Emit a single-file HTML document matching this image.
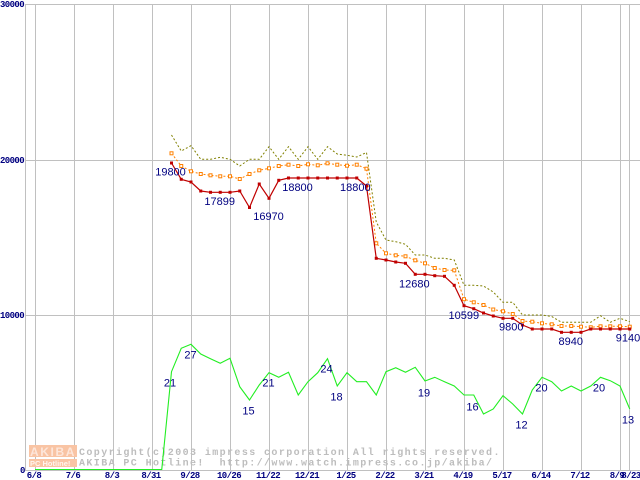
<!DOCTYPE html>
<html><head><meta charset="utf-8"><style>
html,body{margin:0;padding:0;background:#fff;}
svg{display:block;}
</style></head><body>
<svg xmlns="http://www.w3.org/2000/svg" width="640" height="480" viewBox="0 0 640 480">
<rect width="640" height="480" fill="#fff"/>
<g stroke="#c0c0c0" stroke-width="1" shape-rendering="crispEdges">
<line x1="25" y1="4.5" x2="640" y2="4.5"/>
<line x1="25" y1="160.5" x2="640" y2="160.5"/>
<line x1="25" y1="315.5" x2="640" y2="315.5"/>
<line x1="25" y1="470.5" x2="640" y2="470.5"/>
<line x1="25.5" y1="4" x2="25.5" y2="471"/>
<line x1="35.5" y1="4" x2="35.5" y2="471"/>
<line x1="74.5" y1="4" x2="74.5" y2="471"/>
<line x1="113.5" y1="4" x2="113.5" y2="471"/>
<line x1="152.5" y1="4" x2="152.5" y2="471"/>
<line x1="191.5" y1="4" x2="191.5" y2="471"/>
<line x1="230.5" y1="4" x2="230.5" y2="471"/>
<line x1="269.5" y1="4" x2="269.5" y2="471"/>
<line x1="308.5" y1="4" x2="308.5" y2="471"/>
<line x1="347.5" y1="4" x2="347.5" y2="471"/>
<line x1="386.5" y1="4" x2="386.5" y2="471"/>
<line x1="425.5" y1="4" x2="425.5" y2="471"/>
<line x1="464.5" y1="4" x2="464.5" y2="471"/>
<line x1="503.5" y1="4" x2="503.5" y2="471"/>
<line x1="542.5" y1="4" x2="542.5" y2="471"/>
<line x1="581.5" y1="4" x2="581.5" y2="471"/>
<line x1="620.5" y1="4" x2="620.5" y2="471"/>
<line x1="629.5" y1="4" x2="629.5" y2="471"/>
</g>
<g font-family="'Liberation Mono', monospace" font-weight="bold" font-size="9" fill="#000080" letter-spacing="-0.6">
<text x="0" y="7">30000</text>
<text x="0" y="163">20000</text>
<text x="0" y="318">10000</text>
<text x="20" y="473">0</text>
</g>
<g font-family="'Liberation Mono', monospace" font-weight="bold" font-size="9" fill="#000080" letter-spacing="-0.6" text-anchor="middle">
<text x="34" y="478">6/8</text>
<text x="73" y="478">7/6</text>
<text x="112" y="478">8/3</text>
<text x="151" y="478">8/31</text>
<text x="190" y="478">9/28</text>
<text x="229" y="478">10/26</text>
<text x="268" y="478">11/22</text>
<text x="307" y="478">12/21</text>
<text x="346" y="478">1/25</text>
<text x="385" y="478">2/22</text>
<text x="424" y="478">3/21</text>
<text x="463" y="478">4/19</text>
<text x="502" y="478">5/17</text>
<text x="541" y="478">6/14</text>
<text x="580" y="478">7/12</text>
<text x="617" y="478">8/9</text>
<text x="631" y="478">8/23</text>
</g>
<!-- watermark -->
<rect x="29" y="445" width="48" height="12" fill="#f9c4a4"/>
<rect x="29" y="459" width="48" height="8" fill="#f9c4a4"/>
<text x="30" y="456" font-family="'Liberation Sans', sans-serif" font-weight="bold" font-size="12" fill="#fde6da" letter-spacing="1.6">AKIBA</text>
<text x="30" y="466" font-family="'Liberation Sans', sans-serif" font-weight="bold" font-size="7.5" fill="#fff4ee">PC Hotline!</text>
<g font-family="'Liberation Mono', monospace" font-weight="bold" font-size="10" fill="#bdbdbd" letter-spacing="1.4">
<text x="79" y="455">Copyright(c)2003 impress corporation All rights reserved.</text>
<text x="79" y="465.5" xml:space="preserve">AKIBA PC Hotline!  http://www.watch.impress.co.jp/akiba/</text>
</g>
<!-- series -->
<polyline fill="none" stroke="#808000" stroke-width="1" stroke-dasharray="2,2" points="171.5,135 181.25,151 191,145.7 200.75,159.3 210.5,159.3 220.25,157.3 230,159.3 239.75,166 249.5,159.3 259.25,159.3 269,146.7 278.75,159.3 288.5,146.7 298.25,159.3 308,146.7 317.75,159.3 327.5,146.7 337.25,154 347,155.3 356.75,157 366.5,152.5 376.25,222 386,240 395.75,241.7 405.5,244.3 415.25,255 425,255 434.75,258.3 444.5,258.3 454.25,260 464,285.3 473.75,285.3 483.5,286 493.25,292 503,302.3 512.75,302.3 522.5,315 532.25,315 542,315 551.75,316.5 561.5,322.3 571.25,322.3 581,322.3 590.75,322.3 600.5,315.7 610.25,322.3 620,318.3 629.75,321.7"/>
<polyline fill="none" stroke="#ff8000" stroke-width="1" stroke-dasharray="2,2" points="171.5,153.3 181.25,166 191,171.3 200.75,174 210.5,175.3 220.25,176.3 230,176.3 239.75,179 249.5,174 259.25,170.3 269,168.3 278.75,166 288.5,164.7 298.25,166 308,164.3 317.75,165.3 327.5,163.3 337.25,164.7 347,165.7 356.75,164.7 366.5,168.7 376.25,243.3 386,253.3 395.75,255.3 405.5,256.3 415.25,260.3 425,263.3 434.75,268 444.5,270 454.25,270.3 464,299.2 473.75,302.3 483.5,305 493.25,309.5 503,311.3 512.75,314 522.5,321 532.25,321.7 542,323.3 551.75,324.3 561.5,326 571.25,326 581,326.7 590.75,327.3 600.5,326.3 610.25,326.3 620,326.3 629.75,326.7"/>
<g fill="#fff" stroke="#ff8000" stroke-width="1">
<rect x="170" y="151.8" width="3" height="3"/><rect x="179.75" y="164.5" width="3" height="3"/><rect x="189.5" y="169.8" width="3" height="3"/><rect x="199.25" y="172.5" width="3" height="3"/><rect x="209" y="173.8" width="3" height="3"/><rect x="218.75" y="174.8" width="3" height="3"/><rect x="228.5" y="174.8" width="3" height="3"/><rect x="238.25" y="177.5" width="3" height="3"/><rect x="248" y="172.5" width="3" height="3"/><rect x="257.75" y="168.8" width="3" height="3"/><rect x="267.5" y="166.8" width="3" height="3"/><rect x="277.25" y="164.5" width="3" height="3"/><rect x="287" y="163.2" width="3" height="3"/><rect x="296.75" y="164.5" width="3" height="3"/><rect x="306.5" y="162.8" width="3" height="3"/><rect x="316.25" y="163.8" width="3" height="3"/><rect x="326" y="161.8" width="3" height="3"/><rect x="335.75" y="163.2" width="3" height="3"/><rect x="345.5" y="164.2" width="3" height="3"/><rect x="355.25" y="163.2" width="3" height="3"/><rect x="365" y="167.2" width="3" height="3"/><rect x="374.75" y="241.8" width="3" height="3"/><rect x="384.5" y="251.8" width="3" height="3"/><rect x="394.25" y="253.8" width="3" height="3"/><rect x="404" y="254.8" width="3" height="3"/><rect x="413.75" y="258.8" width="3" height="3"/><rect x="423.5" y="261.8" width="3" height="3"/><rect x="433.25" y="266.5" width="3" height="3"/><rect x="443" y="268.5" width="3" height="3"/><rect x="452.75" y="268.8" width="3" height="3"/><rect x="462.5" y="297.7" width="3" height="3"/><rect x="472.25" y="300.8" width="3" height="3"/><rect x="482" y="303.5" width="3" height="3"/><rect x="491.75" y="308" width="3" height="3"/><rect x="501.5" y="309.8" width="3" height="3"/><rect x="511.25" y="312.5" width="3" height="3"/><rect x="521" y="319.5" width="3" height="3"/><rect x="530.75" y="320.2" width="3" height="3"/><rect x="540.5" y="321.8" width="3" height="3"/><rect x="550.25" y="322.8" width="3" height="3"/><rect x="560" y="324.5" width="3" height="3"/><rect x="569.75" y="324.5" width="3" height="3"/><rect x="579.5" y="325.2" width="3" height="3"/><rect x="589.25" y="325.8" width="3" height="3"/><rect x="599" y="324.8" width="3" height="3"/><rect x="608.75" y="324.8" width="3" height="3"/><rect x="618.5" y="324.8" width="3" height="3"/><rect x="628.25" y="325.2" width="3" height="3"/>
</g>
<polyline fill="none" stroke="#c00000" stroke-width="1.2" points="171.5,163 181.25,179.3 191,182 200.75,191 210.5,192.3 220.25,192.3 230,192.3 239.75,191 249.5,207.5 259.25,184 269,198.3 278.75,180.3 288.5,178 298.25,178 308,178 317.75,178 327.5,178 337.25,178 347,178 356.75,178 366.5,186 376.25,258.3 386,260 395.75,262 405.5,263.3 415.25,274.3 425,274.3 434.75,275.7 444.5,276.3 454.25,285.3 464,305.7 473.75,308.7 483.5,313 493.25,316 503,318.3 512.75,318.3 522.5,325 532.25,329 542,329 551.75,329 561.5,332.3 571.25,332.3 581,332.3 590.75,329 600.5,329 610.25,329 620,329 629.75,329"/>
<g fill="#c00000">
<rect x="170" y="161.5" width="3" height="3"/><rect x="179.75" y="177.8" width="3" height="3"/><rect x="189.5" y="180.5" width="3" height="3"/><rect x="199.25" y="189.5" width="3" height="3"/><rect x="209" y="190.8" width="3" height="3"/><rect x="218.75" y="190.8" width="3" height="3"/><rect x="228.5" y="190.8" width="3" height="3"/><rect x="238.25" y="189.5" width="3" height="3"/><rect x="248" y="206" width="3" height="3"/><rect x="257.75" y="182.5" width="3" height="3"/><rect x="267.5" y="196.8" width="3" height="3"/><rect x="277.25" y="178.8" width="3" height="3"/><rect x="287" y="176.5" width="3" height="3"/><rect x="296.75" y="176.5" width="3" height="3"/><rect x="306.5" y="176.5" width="3" height="3"/><rect x="316.25" y="176.5" width="3" height="3"/><rect x="326" y="176.5" width="3" height="3"/><rect x="335.75" y="176.5" width="3" height="3"/><rect x="345.5" y="176.5" width="3" height="3"/><rect x="355.25" y="176.5" width="3" height="3"/><rect x="365" y="184.5" width="3" height="3"/><rect x="374.75" y="256.8" width="3" height="3"/><rect x="384.5" y="258.5" width="3" height="3"/><rect x="394.25" y="260.5" width="3" height="3"/><rect x="404" y="261.8" width="3" height="3"/><rect x="413.75" y="272.8" width="3" height="3"/><rect x="423.5" y="272.8" width="3" height="3"/><rect x="433.25" y="274.2" width="3" height="3"/><rect x="443" y="274.8" width="3" height="3"/><rect x="452.75" y="283.8" width="3" height="3"/><rect x="462.5" y="304.2" width="3" height="3"/><rect x="472.25" y="307.2" width="3" height="3"/><rect x="482" y="311.5" width="3" height="3"/><rect x="491.75" y="314.5" width="3" height="3"/><rect x="501.5" y="316.8" width="3" height="3"/><rect x="511.25" y="316.8" width="3" height="3"/><rect x="521" y="323.5" width="3" height="3"/><rect x="530.75" y="327.5" width="3" height="3"/><rect x="540.5" y="327.5" width="3" height="3"/><rect x="550.25" y="327.5" width="3" height="3"/><rect x="560" y="330.8" width="3" height="3"/><rect x="569.75" y="330.8" width="3" height="3"/><rect x="579.5" y="330.8" width="3" height="3"/><rect x="589.25" y="327.5" width="3" height="3"/><rect x="599" y="327.5" width="3" height="3"/><rect x="608.75" y="327.5" width="3" height="3"/><rect x="618.5" y="327.5" width="3" height="3"/><rect x="628.25" y="327.5" width="3" height="3"/>
</g>
<polyline fill="none" stroke="#22ee22" stroke-width="1.1" points="35,469.5 161.75,469.5 171.5,371.7 181.25,348.3 191,344.3 200.75,354 210.5,358.7 220.25,363.3 230,358.3 239.75,386.7 249.5,400 259.25,385 269,372.7 278.75,377.3 288.5,372.3 298.25,395 308,381.7 317.75,372.7 327.5,358.7 337.25,386 347,372.7 356.75,381.7 366.5,381.7 376.25,395 386,371.7 395.75,367.7 405.5,372.3 415.25,367.3 425,381 434.75,377.3 444.5,381.7 454.25,386 464,395 473.75,395 483.5,414 493.25,409 503,395.7 512.75,404 522.5,414 532.25,390 542,377.3 551.75,381.7 561.5,391 571.25,386 581,391 590.75,386 600.5,377.3 610.25,380.7 620,386 629.75,409"/>
<g font-family="'Liberation Sans', sans-serif" font-size="11" fill="#000080" text-anchor="middle">
<text x="170.5" y="175.5">19800</text>
<text x="219.7" y="205">17899</text>
<text x="268.5" y="220">16970</text>
<text x="297.5" y="191">18800</text>
<text x="355.3" y="191">18800</text>
<text x="414.3" y="287.3">12680</text>
<text x="463.8" y="319">10599</text>
<text x="511.3" y="330.6">9800</text>
<text x="570.8" y="345">8940</text>
<text x="628" y="341.6">9140</text>
<text x="170" y="386.3">21</text>
<text x="190.5" y="358.3">27</text>
<text x="248.5" y="414.3">15</text>
<text x="268.5" y="386.3">21</text>
<text x="326.5" y="372.3">24</text>
<text x="336.5" y="400.3">18</text>
<text x="424" y="396.3">19</text>
<text x="472.5" y="410.3">16</text>
<text x="521.5" y="428.3">12</text>
<text x="541.5" y="391.3">20</text>
<text x="599" y="391.3">20</text>
<text x="628" y="423.3">13</text>
</g>
</svg>
</body></html>
